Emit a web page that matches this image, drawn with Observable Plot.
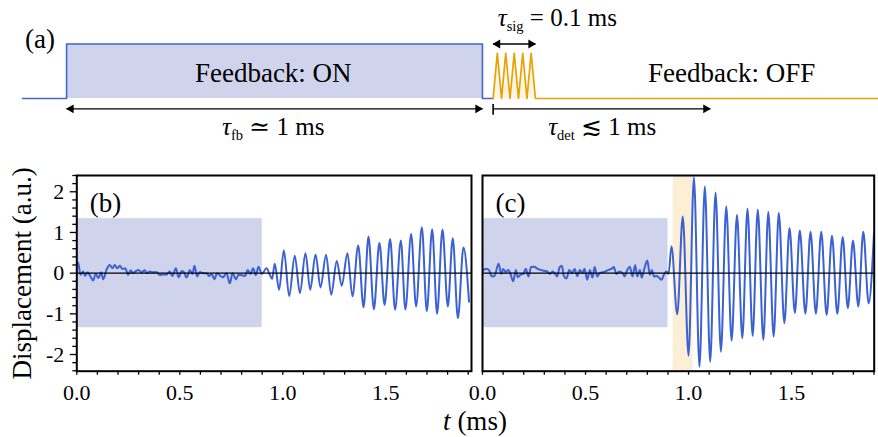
<!DOCTYPE html>
<html><head><meta charset="utf-8">
<script src="https://cdn.jsdelivr.net/npm/d3@7"></script>
<script src="https://cdn.jsdelivr.net/npm/@observablehq/plot@0.6"></script>
<style>
html,body{margin:0;padding:0;background:#fff;}
#fig{position:relative;width:878px;height:437px;font-family:'Liberation Serif','DejaVu Serif','Times New Roman',serif;color:#000;overflow:hidden;}
#fig > *{position:absolute;}
#fig svg, #fig svg text{font-family:'Liberation Serif','DejaVu Serif','Times New Roman',serif !important;}
#xlabel{font-size:27px;line-height:1;white-space:nowrap;transform:translateX(-50%);}
</style></head><body><div id="fig"></div>
<script>
// ---------------- data ----------------
// panel (a): schematic timing (ms)
const fbTime  = [-0.106, 0, 0, 1, 1, 1.026];
const fbLevel = [0, 0, 1, 1, 0, 0];
const sigTime  = [1.0257, 1.0358, 1.0459, 1.0560, 1.0663, 1.0764, 1.0868, 1.0969, 1.1070, 1.1171, 1.1274];
const sigLevel = [0, 0.83, 0, 0.83, 0, 0.83, 0, 0.83, 0, 0.83, 0];
const offTime  = [1.1274, 1.95];
const offLevel = [0, 0];
const spans = [
  {name: "fb",  x1: 0,      x2: 1,      y: -0.19, start: true,  end: true,  bar: false},
  {name: "det", x1: 1.0257, x2: 1.548,  y: -0.19, start: false, end: true,  bar: true},
  {name: "sig", x1: 1.0257, x2: 1.1274, y: 1.0,   start: true,  end: true,  bar: false}
];
const aLabels = [
  {text: "(a)",              x: -0.064, y: 1.08},
  {text: "Feedback: ON",     x: 0.497,  y: 0.46},
  {text: "Feedback: OFF",    x: 1.599,  y: 0.47},
  {text: "τ_{fb} ≃ 1 ms",    x: 0.497,  y: -0.53},
  {text: "τ_{det} ≲ 1 ms",   x: 1.288,  y: -0.53},
  {text: "τ_{sig} = 0.1 ms", x: 1.18,   y: 1.47}
];

// panels (b),(c): feedback window and detection signal window
const fbBox = {x1: 0, x2: 0.9, y1: -1.34, y2: 1.34};
const signalWindow = [0.925, 1.022];

// panel (b) trace
const bTime = [0.000,0.006,0.018,0.031,0.040,0.053,0.066,0.079,0.092,0.105,0.118,0.128,0.144,0.160,0.173,0.184,0.196,0.209,0.222,0.235,0.249,0.261,0.273,0.286,0.299,0.314,0.330,0.341,0.354,0.371,0.387,0.403,0.419,0.435,0.451,0.464,0.481,0.494,0.510,0.523,0.532,0.549,0.562,0.571,0.584,0.597,0.613,0.630,0.642,0.655,0.668,0.681,0.698,0.710,0.726,0.743,0.756,0.772,0.785,0.801,0.817,0.830,0.843,0.856,0.869,0.882,0.898,0.921,0.937,0.948,0.961,0.982,1.005,1.031,1.058,1.083,1.110,1.133,1.159,1.183,1.210,1.235,1.262,1.286,1.314,1.338,1.366,1.392,1.416,1.442,1.469,1.494,1.521,1.545,1.573,1.595,1.623,1.647,1.675,1.699,1.725,1.749,1.775,1.801,1.825,1.850,1.877,1.904];
const bValue = [0.22,0.26,-0.04,0.04,-0.07,0.02,-0.08,-0.18,-0.02,-0.12,0.02,-0.15,0.08,0.20,0.12,0.20,0.12,0.18,0.10,0.12,-0.04,0.07,0.00,0.05,0.08,0.02,0.07,0.00,0.04,0.02,0.03,-0.05,-0.03,-0.04,0.04,-0.07,0.12,-0.10,0.05,0.00,-0.11,0.07,-0.02,0.18,-0.08,0.03,0.00,0.00,-0.07,-0.02,-0.15,0.00,-0.07,-0.10,0.00,-0.25,0.00,-0.15,-0.04,-0.05,-0.07,0.08,-0.02,0.12,-0.05,0.16,-0.02,0.12,-0.04,-0.14,0.23,-0.41,0.56,-0.56,0.43,-0.49,0.49,-0.41,0.46,-0.35,0.45,-0.53,0.30,-0.31,0.49,-0.57,0.68,-0.84,0.90,-0.89,0.75,-0.78,0.84,-0.90,0.80,-0.89,0.96,-0.82,1.13,-0.94,1.08,-1.00,1.07,-0.82,0.86,-1.11,0.63,-0.70];

// panel (c) trace
const cTime = [0.000,0.006,0.019,0.032,0.045,0.058,0.078,0.091,0.100,0.113,0.126,0.136,0.149,0.162,0.171,0.184,0.198,0.210,0.223,0.236,0.252,0.265,0.282,0.298,0.314,0.327,0.340,0.353,0.362,0.375,0.385,0.395,0.408,0.421,0.434,0.447,0.460,0.472,0.485,0.495,0.508,0.521,0.534,0.544,0.557,0.569,0.583,0.596,0.612,0.628,0.637,0.650,0.664,0.680,0.689,0.702,0.715,0.728,0.741,0.751,0.764,0.773,0.786,0.800,0.812,0.822,0.832,0.845,0.858,0.870,0.880,0.893,0.903,0.917,0.945,0.972,1.000,1.026,1.053,1.079,1.105,1.131,1.157,1.183,1.209,1.235,1.261,1.286,1.311,1.336,1.363,1.387,1.413,1.438,1.465,1.490,1.516,1.540,1.567,1.592,1.618,1.644,1.670,1.696,1.722,1.748,1.773,1.798,1.824,1.848,1.874,1.900];
const cValue = [0.05,0.08,0.11,0.07,-0.08,-0.07,0.23,-0.02,0.10,0.03,0.08,-0.02,-0.20,0.08,-0.10,-0.04,-0.02,0.11,-0.08,0.15,0.16,0.11,0.08,0.06,0.04,-0.02,0.04,-0.02,-0.08,0.15,0.18,-0.07,-0.13,0.08,0.00,0.10,-0.07,0.08,0.00,0.11,-0.16,0.08,-0.11,0.15,-0.08,0.00,0.02,0.04,0.08,0.11,0.15,-0.02,0.04,0.00,-0.08,0.07,0.16,-0.08,0.20,-0.08,0.08,-0.11,0.12,0.31,-0.04,0.08,-0.08,-0.07,-0.12,-0.16,-0.04,0.04,-0.02,0.66,-1.01,1.39,-2.03,2.36,-2.30,2.13,-2.18,1.98,-1.93,1.64,-1.66,1.43,-1.60,1.58,-1.54,1.56,-1.64,1.50,-1.56,1.48,-1.23,1.11,-0.98,1.05,-1.00,1.02,-1.00,1.02,-1.03,0.92,-1.00,0.89,-0.86,0.80,-0.82,1.02,-0.74,0.98];

// ticks
const xMajor = [0, 0.5, 1.0, 1.5];
const xMinor = [0.1,0.2,0.3,0.4,0.6,0.7,0.8,0.9,1.1,1.2,1.3,1.4,1.6,1.7,1.8,1.9];
const yMajor = [-2, -1, 0, 1, 2];
const yMinor = [-2.4,-2.2,-1.8,-1.6,-1.4,-1.2,-0.8,-0.6,-0.4,-0.2,0.2,0.4,0.6,0.8,1.2,1.4,1.6,1.8,2.2,2.4];
const yTitle = "Displacement (a.u.)";

// ---------------- styles ----------------
const FONT = "'Liberation Serif','DejaVu Serif',serif";
const BLUE = "#3b61d4";
const SCHEME_BLUE = "#4466c6";
const BOX = "#d0d3ec";
const BAND = "#fdeed6";
const ORANGE = "#e9a202";
const baseStyle = {background: "none", overflow: "visible", fontFamily: FONT, fontSize: "22px", color: "black"};

const fig = document.getElementById("fig");
function place(el, left, top) { el.style.left = left + "px"; el.style.top = top + "px"; fig.appendChild(el); }

function richify(svg) {
  d3.select(svg).selectAll("text").each(function () {
    const s = this.textContent;
    if (!s.includes("_{")) return;
    const parts = s.split(/(_\{[^}]*\})/).filter(p => p);
    const el = d3.select(this);
    el.text(null);
    let shifted = false;
    parts.forEach(p => {
      if (p.startsWith("_{")) {
        el.append("tspan").attr("font-size", "0.58em").attr("font-style", "normal").attr("dy", 5).text(p.slice(2, -1));
        shifted = true;
      } else if (p === "τ") {
        el.append("tspan").attr("font-style", "italic").text(p);
      } else {
        const t = el.append("tspan").text(p);
        if (shifted) { t.attr("dy", -5); shifted = false; }
      }
    });
  });
}

// ---------------- panel (a) ----------------
const fbRows = fbTime.map((t, i) => ({t, v: fbLevel[i]}));
const sigRows = sigTime.map((t, i) => ({t, v: sigLevel[i]}));
const offRows = offTime.map((t, i) => ({t, v: offLevel[i]}));
const rightHeads = spans.filter(d => d.end).map(d => ({x: d.x2, y: d.y}));
const leftHeads = spans.filter(d => d.start).map(d => ({x: d.x1, y: d.y}));
const bars = spans.filter(d => d.bar);
const plainLabels = aLabels.filter(d => !d.text.includes("_{"));
const mathLabels = aLabels.filter(d => d.text.includes("_{"));

const panelA = Plot.plot({
  width: 878, height: 150,
  marginLeft: 22, marginRight: 1, marginTop: 43.5, marginBottom: 52,
  x: {domain: [-0.106, 1.95], axis: null},
  y: {domain: [0, 1], axis: null},
  style: baseStyle,
  marks: [
    Plot.areaY(fbRows, {x: "t", y: "v", fill: BOX, curve: "linear"}),
    Plot.areaY(sigRows, {x: "t", y: "v", fill: ORANGE, fillOpacity: 0.1}),
    Plot.line(fbRows, {x: "t", y: "v", stroke: SCHEME_BLUE, strokeWidth: 1.6}),
    Plot.line(sigRows.concat(offRows), {x: "t", y: "v", stroke: ORANGE, strokeWidth: 1.7}),
    Plot.link(spans, {x1: "x1", x2: "x2", y1: "y", y2: "y", stroke: "black", strokeWidth: 1.3}),
    Plot.link(bars, {x1: "x1", x2: "x1", y1: d => d.y + 0.09, y2: d => d.y - 0.11, stroke: "black", strokeWidth: 1.6}),
    Plot.dot(rightHeads, {x: "x", y: "y", symbol: "triangle", r: 3.3, fill: "black", stroke: "none", rotate: 90, dx: -4.5}),
    Plot.dot(leftHeads, {x: "x", y: "y", symbol: "triangle", r: 3.3, fill: "black", stroke: "none", rotate: -90, dx: 4.5}),
    Plot.text(plainLabels, {x: "x", y: "y", text: "text", fontSize: 27, fill: "black", lineAnchor: "middle"}),
    Plot.text(mathLabels, {x: "x", y: "y", text: "text", fontSize: 25, fill: "black", lineAnchor: "middle"})
  ]
});
richify(panelA);
place(panelA, 0, 0);

// ---------------- panels (b), (c) ----------------
function wavePanel({time, value, domain, showY, label, band, width, marginLeft, marginRight}) {
  const rows = time.map((t, i) => ({t, v: value[i]}));
  const marks = [];
  if (band) marks.push(Plot.rect([band], {x1: d => d[0], x2: d => d[1], fill: BAND}));
  marks.push(Plot.rect([fbBox], {x1: "x1", x2: "x2", y1: "y1", y2: "y2", fill: BOX}));
  marks.push(Plot.line(rows, {x: "t", y: "v", stroke: BLUE, strokeWidth: 2, curve: "monotone-x", clip: true}));
  marks.push(Plot.ruleY([0], {stroke: "black", strokeWidth: 1.2}));
  marks.push(Plot.axisX(xMinor, {tickSize: 4, strokeWidth: 1.3, tickFormat: () => "", label: null}));
  marks.push(Plot.axisX(xMajor, {tickSize: 4, strokeWidth: 1.3, tickPadding: 9, tickFormat: d => d.toFixed(1), fontSize: 22, fill: "black", label: null}));
  if (showY) {
    marks.push(Plot.axisY(yMinor, {tickSize: 4, strokeWidth: 1.3, tickFormat: () => "", label: null}));
    marks.push(Plot.axisY(yMajor, {tickSize: 6.5, strokeWidth: 1.3, tickPadding: 6, tickFormat: d => String(d), fontSize: 22, fill: "black", label: null}));
    marks.push(Plot.text([yTitle], {text: d => d, frameAnchor: "left", rotate: -90, dx: -54, fontSize: 27, fill: "black", textAnchor: "middle", lineAnchor: "middle"}));
  }
  marks.push(Plot.frame({stroke: "black", strokeWidth: 2}));
  marks.push(Plot.text([label], {text: d => d, frameAnchor: "top-left", dx: 13, dy: 28, fontSize: 27, fill: "black", textAnchor: "start", lineAnchor: "middle"}));
  return Plot.plot({
    width, height: 277,
    marginLeft, marginRight, marginTop: 15, marginBottom: 66.3,
    x: {domain},
    y: {domain: [-2.41, 2.40], axis: showY ? undefined : null},
    style: baseStyle,
    marks
  });
}

const panelB = wavePanel({time: bTime, value: bValue, domain: [0, 1.916], showY: true, label: "(b)", band: null, width: 476, marginLeft: 76.3, marginRight: 5});
place(panelB, 0, 160);
const panelC = wavePanel({time: cTime, value: cValue, domain: [0, 1.901], showY: false, label: "(c)", band: signalWindow, width: 402, marginLeft: 6, marginRight: 4.3});
place(panelC, 476, 160);

const xl = document.createElement("div");
xl.id = "xlabel";
xl.innerHTML = "<i>t</i> (ms)";
place(xl, 475, 408);
</script></body></html>
